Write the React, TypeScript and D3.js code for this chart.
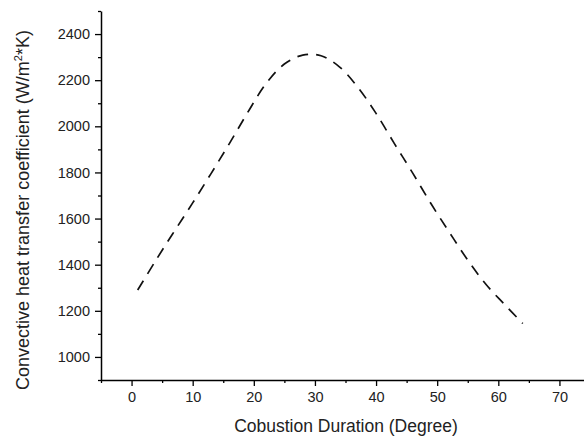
import React, { useEffect, useRef } from 'react';
import * as d3 from 'd3';

// values
const angles = [1, 4, 7, 10, 13, 16, 19, 22, 25, 28, 31, 34, 37, 40, 43, 46, 49, 52, 55, 58, 61, 64];
const coefficients = [
  1290, 1420, 1545, 1668, 1795, 1925, 2060, 2185, 2270, 2309, 2306, 2258, 2170, 2056, 1925, 1797,
  1664, 1540, 1420, 1314, 1228, 1145,
];
const xTicks = [0, 10, 20, 30, 40, 50, 60, 70];
const xMinorTicks = [-5, 5, 15, 25, 35, 45, 55, 65, 75];
const yTicks = [1000, 1200, 1400, 1600, 1800, 2000, 2200, 2400];
const yMinorTicks = [900, 1100, 1300, 1500, 1700, 1900, 2100, 2300, 2500];

const FONT = "Arial, 'Liberation Sans', sans-serif";

export default function App() {
  const svgRef = useRef<SVGSVGElement>(null);

  useEffect(() => {
    const width = 584;
    const height = 438;
    const margin = { top: 11, right: -6, bottom: 58, left: 101 };

    const svg = d3.select(svgRef.current).attr('width', width).attr('height', height);
    svg.selectAll('*').remove();

    const x = d3.scaleLinear().domain([-5, 75]).range([margin.left, width - margin.right]);
    const y = d3.scaleLinear().domain([900, 2500]).range([height - margin.bottom, margin.top]);

    const data = angles.map((a, i) => ({ a, h: coefficients[i] }));

    // axes
    const xAxis = svg.append('g').attr('transform', `translate(0,${height - margin.bottom})`);
    xAxis.call(d3.axisBottom(x).tickValues(xTicks).tickSize(6).tickSizeOuter(0).tickPadding(6));
    const xMinor = svg.append('g').attr('transform', `translate(0,${height - margin.bottom})`);
    xMinor.call(d3.axisBottom(x).tickValues(xMinorTicks).tickSize(3).tickSizeOuter(0).tickFormat(() => ''));
    xMinor.select('.domain').remove();

    const yAxis = svg.append('g').attr('transform', `translate(${margin.left},0)`);
    yAxis.call(
      d3.axisLeft(y).tickValues(yTicks).tickSize(6).tickSizeOuter(0).tickPadding(5).tickFormat(d3.format('d'))
    );
    const yMinor = svg.append('g').attr('transform', `translate(${margin.left},0)`);
    yMinor.call(d3.axisLeft(y).tickValues(yMinorTicks).tickSize(3).tickSizeOuter(0).tickFormat(() => ''));
    yMinor.select('.domain').remove();

    svg.selectAll('.domain').attr('stroke', '#000').attr('stroke-width', 1.5);
    svg.selectAll('.tick line').attr('stroke', '#000').attr('stroke-width', 1.3);
    svg
      .selectAll('.tick text')
      .attr('fill', '#222')
      .style('font-family', FONT)
      .style('font-size', '14.5px');

    // curve
    const line = d3
      .line<{ a: number; h: number }>()
      .x((d) => x(d.a))
      .y((d) => y(d.h))
      .curve(d3.curveCatmullRom.alpha(0.5));

    svg
      .append('path')
      .datum(data)
      .attr('d', line)
      .attr('fill', 'none')
      .attr('stroke', '#111')
      .attr('stroke-width', 1.7)
      .attr('stroke-dasharray', '11 8');

    // labels
    svg
      .append('text')
      .attr('x', 346)
      .attr('y', 432)
      .attr('text-anchor', 'middle')
      .attr('fill', '#222')
      .style('font-family', FONT)
      .style('font-size', '17.5px')
      .text('Cobustion Duration (Degree)');

    const yLabel = svg
      .append('text')
      .attr('transform', 'translate(29,210) rotate(-90)')
      .attr('text-anchor', 'middle')
      .attr('fill', '#222')
      .style('font-family', FONT)
      .style('font-size', '18px');
    yLabel.append('tspan').text('Convective heat transfer coefficient (W/m');
    yLabel.append('tspan').attr('dy', -7).style('font-size', '11px').text('2');
    yLabel.append('tspan').attr('dy', 7).text('*K)');
  }, []);

  return (
    <div>
      <svg ref={svgRef} style={{ position: 'absolute', left: 0, top: 0, display: 'block', background: '#fff' }} />
    </div>
  );
}
